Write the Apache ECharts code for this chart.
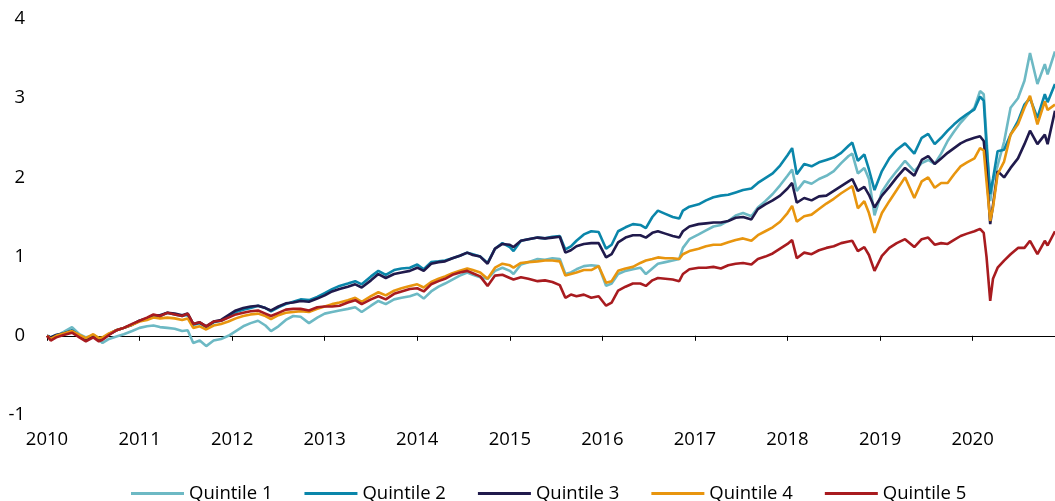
<!DOCTYPE html>
<html>
<head>
<meta charset="utf-8">
<script src="https://cdn.jsdelivr.net/npm/echarts@6/dist/echarts.min.js"></script>
<style>
html,body{margin:0;padding:0;background:#fff;}
#chart{width:1055px;height:501px;}
</style>
</head>
<body>
<div id="chart"></div>
<script>
const seriesNames = ['Quintile 1','Quintile 2','Quintile 3','Quintile 4','Quintile 5'];
const yearTicks = [2010,2011,2012,2013,2014,2015,2016,2017,2018,2019,2020];
const yTicks = [-1,0,1,2,3,4];

const yearPos = [
2010.00,2010.04,2010.10,2010.18,2010.27,2010.35,2010.42,2010.50,2010.56,2010.60,2010.67,2010.75,2010.83,2010.92,
2011.00,2011.08,2011.15,2011.22,2011.30,2011.38,2011.46,2011.52,2011.58,2011.65,2011.72,2011.80,2011.88,2011.96,
2012.04,2012.12,2012.20,2012.28,2012.36,2012.42,2012.50,2012.58,2012.66,2012.74,2012.83,2012.92,
2013.00,2013.08,2013.16,2013.25,2013.33,2013.40,2013.50,2013.58,2013.66,2013.75,2013.83,2013.92,
2014.00,2014.07,2014.15,2014.23,2014.30,2014.38,2014.46,2014.54,2014.60,2014.68,2014.76,2014.84,2014.92,
2015.00,2015.04,2015.12,2015.20,2015.30,2015.38,2015.46,2015.54,2015.60,2015.66,2015.72,2015.80,2015.88,2015.96,
2016.04,2016.10,2016.17,2016.25,2016.33,2016.41,2016.47,2016.54,2016.60,2016.68,2016.76,2016.83,2016.87,2016.94,
2017.04,2017.12,2017.20,2017.28,2017.36,2017.44,2017.52,2017.61,2017.68,2017.76,2017.84,2017.92,
2018.00,2018.05,2018.10,2018.18,2018.26,2018.34,2018.42,2018.50,2018.58,2018.66,2018.70,2018.76,2018.83,2018.88,2018.94,
2019.02,2019.10,2019.18,2019.27,2019.37,2019.45,2019.52,2019.59,2019.66,2019.73,2019.80,2019.87,2019.94,
2020.02,2020.08,2020.12,2020.15,2020.19,2020.22,2020.27,2020.34,2020.41,2020.49,2020.56,2020.62,2020.70,2020.78,2020.81,2020.89
];

const q1 = [
0,-0.03,0.00,0.05,0.11,0.02,-0.02,0.00,-0.05,-0.09,-0.04,-0.01,0.02,0.06,
0.10,0.12,0.13,0.11,0.10,0.09,0.06,0.07,-0.09,-0.06,-0.13,-0.06,-0.04,0.00,
0.06,0.12,0.16,0.19,0.13,0.06,0.12,0.20,0.25,0.24,0.16,0.23,
0.28,0.30,0.32,0.34,0.36,0.30,0.38,0.44,0.40,0.46,0.48,0.50,
0.53,0.47,0.56,0.62,0.66,0.71,0.76,0.80,0.77,0.74,0.72,0.82,0.86,
0.82,0.78,0.90,0.93,0.97,0.96,0.98,0.97,0.78,0.80,0.84,0.88,0.89,0.88,
0.63,0.66,0.78,0.82,0.84,0.86,0.78,0.85,0.91,0.93,0.95,0.97,1.11,1.22,
1.28,1.33,1.38,1.40,1.45,1.52,1.55,1.51,1.62,1.70,1.79,1.90,
2.02,2.10,1.83,1.95,1.92,1.98,2.02,2.08,2.18,2.27,2.30,2.05,2.12,1.98,1.52,
1.82,1.96,2.08,2.21,2.08,2.18,2.22,2.17,2.30,2.46,2.58,2.69,2.78,
2.88,3.09,3.05,2.50,1.70,1.95,2.15,2.45,2.88,3.00,3.22,3.57,3.18,3.43,3.30,3.59
];

const q2 = [
0,-0.02,0.01,0.03,0.07,0.00,-0.04,0.01,-0.03,-0.03,0.02,0.07,0.10,0.14,
0.19,0.22,0.26,0.25,0.29,0.27,0.25,0.27,0.14,0.16,0.11,0.17,0.19,0.24,
0.30,0.33,0.35,0.38,0.35,0.31,0.36,0.40,0.43,0.46,0.45,0.49,
0.54,0.59,0.63,0.66,0.69,0.65,0.75,0.82,0.77,0.83,0.85,0.86,
0.90,0.84,0.93,0.94,0.95,0.98,1.01,1.05,1.03,1.00,0.92,1.10,1.17,
1.12,1.07,1.20,1.22,1.24,1.23,1.25,1.26,1.09,1.13,1.20,1.28,1.32,1.31,
1.10,1.15,1.32,1.37,1.41,1.40,1.36,1.50,1.58,1.54,1.50,1.48,1.58,1.63,
1.66,1.71,1.75,1.77,1.78,1.81,1.84,1.86,1.93,1.99,2.05,2.15,
2.28,2.37,2.04,2.17,2.14,2.19,2.22,2.25,2.31,2.40,2.44,2.21,2.29,2.10,1.84,
2.08,2.24,2.35,2.43,2.30,2.50,2.55,2.42,2.50,2.59,2.67,2.74,2.80,
2.86,3.02,2.97,2.40,1.79,1.98,2.33,2.35,2.54,2.71,2.92,3.00,2.75,3.05,2.95,3.18
];

const q3 = [
0,-0.02,0.01,0.03,0.06,0.00,-0.04,0.00,-0.04,-0.04,0.02,0.07,0.10,0.14,
0.19,0.22,0.26,0.26,0.29,0.28,0.26,0.28,0.15,0.17,0.12,0.18,0.20,0.26,
0.32,0.35,0.37,0.38,0.35,0.32,0.37,0.41,0.42,0.44,0.43,0.47,
0.51,0.56,0.59,0.62,0.65,0.61,0.70,0.78,0.73,0.78,0.80,0.82,
0.86,0.82,0.91,0.93,0.94,0.98,1.01,1.05,1.02,1.00,0.91,1.10,1.16,
1.15,1.12,1.20,1.22,1.24,1.23,1.24,1.25,1.05,1.08,1.13,1.16,1.17,1.17,
0.99,1.03,1.18,1.24,1.27,1.27,1.24,1.30,1.32,1.29,1.26,1.24,1.32,1.38,
1.41,1.42,1.43,1.43,1.45,1.49,1.50,1.47,1.60,1.66,1.71,1.77,
1.86,1.93,1.68,1.74,1.71,1.76,1.77,1.83,1.89,1.95,1.98,1.83,1.88,1.78,1.62,
1.77,1.88,2.00,2.12,2.02,2.22,2.27,2.17,2.24,2.31,2.37,2.43,2.47,
2.50,2.52,2.46,2.10,1.41,1.65,2.08,2.00,2.12,2.24,2.42,2.59,2.42,2.54,2.42,2.84
];

const q4 = [
0,-0.04,0.00,0.03,0.06,0.01,-0.03,0.02,-0.03,-0.02,0.03,0.07,0.10,0.14,
0.18,0.20,0.23,0.22,0.23,0.22,0.20,0.22,0.10,0.12,0.08,0.13,0.15,0.18,
0.22,0.25,0.27,0.28,0.25,0.21,0.26,0.29,0.30,0.31,0.30,0.34,
0.37,0.40,0.42,0.45,0.48,0.43,0.50,0.55,0.51,0.57,0.60,0.63,
0.65,0.61,0.68,0.72,0.75,0.79,0.82,0.85,0.83,0.80,0.72,0.86,0.91,
0.89,0.86,0.92,0.93,0.94,0.95,0.95,0.94,0.76,0.78,0.80,0.83,0.83,0.88,
0.67,0.69,0.82,0.85,0.87,0.92,0.95,0.97,0.99,0.98,0.98,0.97,1.03,1.07,
1.10,1.13,1.15,1.15,1.18,1.21,1.23,1.20,1.27,1.32,1.37,1.44,
1.55,1.64,1.44,1.51,1.53,1.60,1.67,1.73,1.80,1.86,1.89,1.61,1.70,1.55,1.30,
1.55,1.70,1.84,2.00,1.74,1.95,2.00,1.87,1.93,1.93,2.04,2.14,2.19,
2.24,2.37,2.34,1.95,1.45,1.62,2.04,2.20,2.54,2.67,2.88,3.03,2.67,2.96,2.85,2.92
];

const q5 = [
0,-0.06,-0.02,0.01,0.04,-0.02,-0.07,-0.02,-0.07,-0.05,0.01,0.07,0.10,0.15,
0.19,0.23,0.27,0.25,0.29,0.27,0.25,0.28,0.15,0.17,0.12,0.18,0.19,0.23,
0.27,0.29,0.31,0.32,0.28,0.25,0.29,0.33,0.34,0.34,0.32,0.36,
0.37,0.37,0.38,0.42,0.45,0.40,0.46,0.50,0.46,0.53,0.56,0.59,
0.60,0.56,0.65,0.69,0.72,0.77,0.80,0.82,0.79,0.75,0.63,0.76,0.77,
0.73,0.71,0.74,0.72,0.69,0.70,0.68,0.64,0.48,0.52,0.50,0.52,0.48,0.50,
0.38,0.42,0.57,0.62,0.66,0.66,0.63,0.70,0.73,0.72,0.71,0.69,0.78,0.84,
0.86,0.86,0.87,0.85,0.89,0.91,0.92,0.90,0.97,1.00,1.04,1.10,
1.16,1.21,0.98,1.05,1.03,1.08,1.11,1.13,1.17,1.19,1.20,1.07,1.12,1.02,0.82,
1.01,1.11,1.17,1.22,1.12,1.22,1.24,1.15,1.17,1.16,1.21,1.26,1.29,
1.32,1.35,1.30,1.00,0.44,0.72,0.86,0.95,1.03,1.11,1.11,1.20,1.03,1.20,1.14,1.32
];

const colors = ['#6DB9C4','#0A86AA','#201A4C','#E8950E','#A81B1F'];
const allValues = [q1,q2,q3,q4,q5];

const FONT = 'Open Sans';
const chart = echarts.init(document.getElementById('chart'), null, {renderer:'canvas'});
chart.setOption({
  animation: false,
  backgroundColor: '#fff',
  color: colors,
  grid: {left: 47, right: 0, top: 19, bottom: 86, containLabel: false},
  legend: {
    data: seriesNames,
    left: 126,
    top: 479,
    icon: 'rect',
    itemWidth: 53,
    itemHeight: 3,
    itemGap: 32,
    textStyle: {fontFamily: FONT, fontSize: 18.5, color: '#000'}
  },
  xAxis: {
    type: 'value',
    min: yearTicks[0],
    max: 2020.89,
    interval: 1,
    axisLine: {show: true, lineStyle: {color: '#000', width: 1}},
    axisTick: {show: true, length: 5, lineStyle: {color: '#000'}},
    splitLine: {show: false},
    axisLabel: {
      fontFamily: FONT, fontSize: 18.5, color: '#000', margin: 15,
      showMaxLabel: false,
      formatter: v => (yearTicks.indexOf(Math.round(v)) >= 0 && Math.abs(v - Math.round(v)) < 1e-6) ? String(Math.round(v)) : ''
    }
  },
  yAxis: {
    type: 'value',
    min: yTicks[0],
    max: yTicks[yTicks.length-1],
    interval: 1,
    axisLine: {show: false},
    axisTick: {show: false},
    splitLine: {show: false},
    axisLabel: {fontFamily: FONT, fontSize: 18.5, color: '#000', margin: 22}
  },
  series: seriesNames.map((n, k) => ({
    name: n,
    type: 'line',
    data: yearPos.map((t, i) => [t, allValues[k][i]]),
    showSymbol: false,
    symbol: 'none',
    lineStyle: {width: 2.6, color: colors[k]},
    itemStyle: {color: colors[k]},
    z: 2 + k
  }))
});
</script>
</body>
</html>
